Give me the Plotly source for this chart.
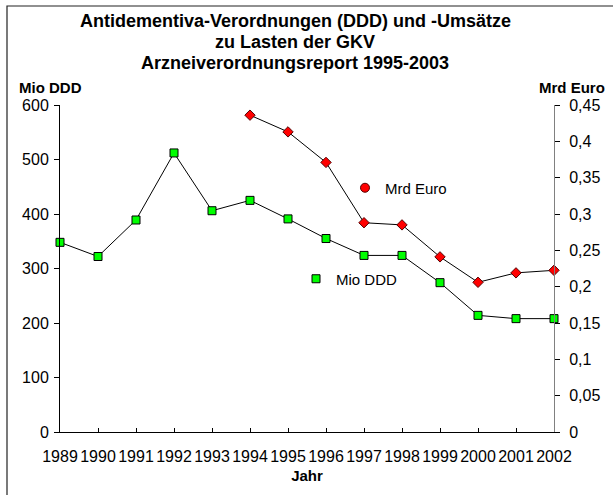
import plotly.graph_objects as go

years = [1989, 1990, 1991, 1992, 1993, 1994, 1995, 1996, 1997, 1998, 1999, 2000, 2001, 2002]
mio_ddd = [348, 322, 389, 512, 406, 425, 391, 355, 324, 324, 274, 214, 208, 208]
euro_years = [1994, 1995, 1996, 1997, 1998, 1999, 2000, 2001, 2002]
mrd_euro = [0.436, 0.413, 0.371, 0.288, 0.285, 0.241, 0.206, 0.219, 0.2225]

left_ticks = [0, 100, 200, 300, 400, 500, 600]
right_ticks = [0, 0.05, 0.1, 0.15, 0.2, 0.25, 0.3, 0.35, 0.4, 0.45]
right_ticktext = ["0", "0,05", "0,1", "0,15", "0,2", "0,25", "0,3", "0,35", "0,4", "0,45"]

title_lines = [
    "Antidementiva-Verordnungen (DDD) und -Umsätze",
    "zu Lasten der GKV",
    "Arzneiverordnungsreport 1995-2003",
]

FONT = "Liberation Sans, Arial, sans-serif"
W, H = 613, 495
L, R, T, B = 60, 59, 105, 63
pw, ph = W - L - R, H - T - B


def px_x(px):
    return (px - L) / pw


def px_y(py):
    return (H - B - py) / ph


fig = go.Figure()

fig.add_trace(go.Scatter(
    x=years, y=mio_ddd, mode="lines+markers", name="Mio DDD",
    line=dict(color="black", width=1),
    marker=dict(symbol="square", size=8, color="#00ff00", line=dict(color="black", width=1)),
    cliponaxis=False, showlegend=False, yaxis="y",
))
fig.add_trace(go.Scatter(
    x=euro_years, y=mrd_euro, mode="lines+markers", name="Mrd Euro",
    line=dict(color="black", width=1),
    marker=dict(symbol="diamond", size=8, color="#ff0000", line=dict(color="#550000", width=1)),
    cliponaxis=False, showlegend=False, yaxis="y2",
))
# legend keys (Excel-style labels near the lines)
fig.add_trace(go.Scatter(
    x=[None], y=[None], mode="markers", name="Mrd Euro",
    marker=dict(symbol="circle", size=9, color="#ff0000", line=dict(color="#550000", width=1)),
    legend="legend", yaxis="y2",
))
fig.add_trace(go.Scatter(
    x=[None], y=[None], mode="markers", name="Mio DDD",
    marker=dict(symbol="square", size=8, color="#00ff00", line=dict(color="black", width=1)),
    legend="legend2",
))

axis_font = dict(family=FONT, size=16, color="black")

annotations = [
    dict(text="<b>%s</b>" % line, xref="paper", yref="paper", x=px_x(295), y=px_y(21 + 21 * i),
         xanchor="center", yanchor="middle", showarrow=False,
         font=dict(family=FONT, size=18, color="black"))
    for i, line in enumerate(title_lines)
]
annotations += [
    dict(text="<b>Mio DDD</b>", xref="paper", yref="paper", x=px_x(17), y=px_y(87),
         xanchor="left", yanchor="middle", showarrow=False, font=dict(family=FONT, size=15)),
    dict(text="<b>Mrd Euro</b>", xref="paper", yref="paper", x=px_x(537), y=px_y(87),
         xanchor="left", yanchor="middle", showarrow=False, font=dict(family=FONT, size=15)),
]

fig.update_layout(
    width=W, height=H,
    margin=dict(l=L, r=R, t=T, b=B, autoexpand=False),
    paper_bgcolor="white", plot_bgcolor="white",
    font=dict(family=FONT, size=15, color="black"),
    xaxis=dict(
        range=[years[0], years[-1]], tickvals=years, ticktext=[str(y) for y in years],
        showgrid=False, zeroline=False, showline=True, linecolor="black", linewidth=1,
        ticks="inside", ticklen=4, tickcolor="black", ticklabelstandoff=10,
        tickfont=axis_font,
        title=dict(text="<b>Jahr</b>", font=dict(family=FONT, size=15), standoff=6),
    ),
    yaxis=dict(
        range=[0, 600], tickvals=left_ticks, showgrid=False, zeroline=False,
        showline=True, linecolor="black", linewidth=1,
        ticks="outside", ticklen=5, tickcolor="black", tickfont=axis_font,
        ticklabelstandoff=2,
    ),
    yaxis2=dict(
        range=[0, 0.45], tickvals=right_ticks, ticktext=right_ticktext,
        overlaying="y", side="right", showgrid=False, zeroline=False,
        showline=True, linecolor="#808080", linewidth=1,
        ticks="outside", ticklen=5, tickcolor="black", tickfont=axis_font,
        ticklabelstandoff=6,
    ),
    legend=dict(
        x=px_x(345), y=px_y(188), xanchor="left", yanchor="middle",
        bgcolor="rgba(0,0,0,0)", borderwidth=0, font=dict(family=FONT, size=15),
        itemwidth=30,
    ),
    legend2=dict(
        x=px_x(296), y=px_y(279), xanchor="left", yanchor="middle",
        bgcolor="rgba(0,0,0,0)", borderwidth=0, font=dict(family=FONT, size=15),
        itemwidth=30,
    ),
    annotations=annotations,
    shapes=[
        dict(type="rect", xref="paper", yref="paper", x0=px_x(7), x1=px_x(640),
             y0=px_y(520), y1=px_y(6), line=dict(color="#222222", width=1.2), layer="below"),
    ],
)

fig.write_html("out.html", config={"displayModeBar": False},
               post_script="document.body.style.margin='0px';")
